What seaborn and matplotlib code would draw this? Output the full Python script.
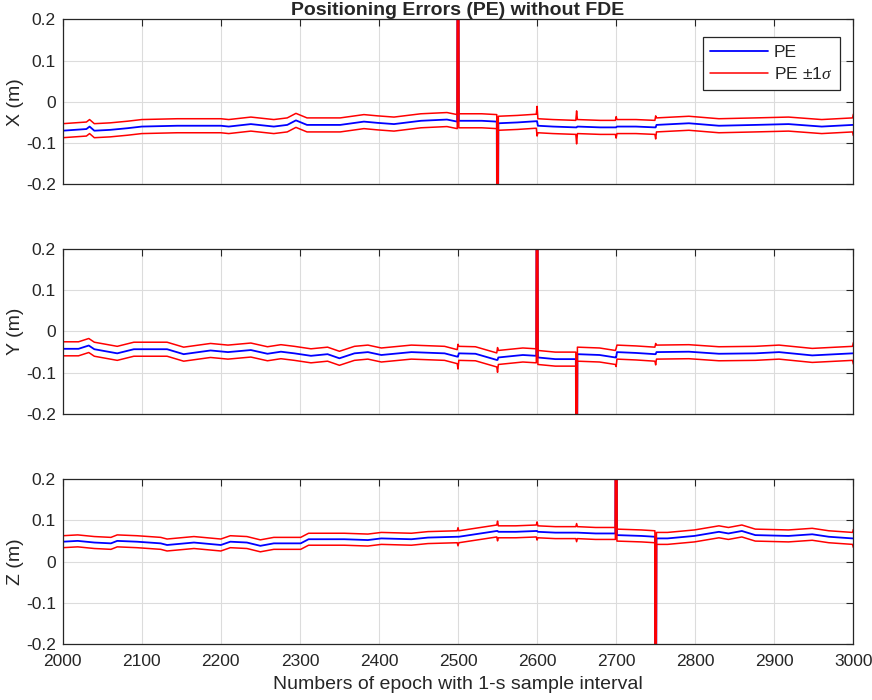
import numpy as np
import pandas as pd
import matplotlib
matplotlib.use("Agg")
import matplotlib.pyplot as plt
from matplotlib.lines import Line2D
import seaborn as sns

# ---------------- data ----------------
x_epochs = [2000, 2030, 2034, 2040, 2060, 2082, 2100, 2145, 2200, 2210, 2238, 2267,
            2284, 2295, 2309, 2351, 2381, 2398, 2419, 2453, 2486, 2499, 2500, 2501,
            2530, 2549, 2550, 2551, 2575, 2599, 2600, 2601, 2620, 2649, 2650, 2651,
            2680, 2699, 2700, 2701, 2725, 2749, 2750, 2751, 2792, 2830, 2876, 2918,
            2960, 2999, 3000]
x_pe = [-0.070, -0.066, -0.060, -0.070, -0.068, -0.064, -0.060, -0.058, -0.058, -0.060,
        -0.054, -0.060, -0.056, -0.045, -0.056, -0.056, -0.048, -0.051, -0.054, -0.046,
        -0.043, -0.048, 1.0, -0.046, -0.046, -0.048, -1.0, -0.052, -0.050, -0.047,
        -0.047, -0.058, -0.060, -0.062, -0.062, -0.060, -0.062, -0.062, -0.062, -0.060,
        -0.060, -0.062, -0.062, -0.056, -0.052, -0.058, -0.056, -0.054, -0.060, -0.056,
        -0.056]
x_sigma_base = 0.017
x_sigma_spike_epochs = [2600, 2650, 2700, 2750, 3000]
x_sigma_spike_vals = [0.036, 0.040, 0.026, 0.028, 0.026]

y_epochs = [2000, 2020, 2033, 2040, 2069, 2090, 2132, 2153, 2187, 2209, 2238, 2259,
            2276, 2293, 2314, 2335, 2350, 2369, 2386, 2403, 2441, 2483, 2499, 2500,
            2501, 2522, 2549, 2550, 2551, 2582, 2599, 2600, 2601, 2623, 2649, 2650,
            2651, 2679, 2699, 2700, 2701, 2725, 2749, 2750, 2751, 2792, 2830, 2876,
            2906, 2948, 2999, 3000]
y_pe = [-0.042, -0.042, -0.034, -0.043, -0.053, -0.043, -0.043, -0.055, -0.046, -0.050,
        -0.045, -0.054, -0.049, -0.053, -0.059, -0.055, -0.065, -0.053, -0.050, -0.057,
        -0.050, -0.053, -0.061, -0.061, -0.053, -0.054, -0.069, -0.069, -0.063, -0.057,
        -0.059, 1.0, -0.063, -0.067, -0.067, -1.0, -0.055, -0.057, -0.063, -0.063,
        -0.050, -0.052, -0.055, -0.055, -0.050, -0.049, -0.054, -0.053, -0.050, -0.058,
        -0.053, -0.053]
y_sigma_base = 0.017
y_sigma_spike_epochs = [2500, 2550, 2700, 2750, 3000]
y_sigma_spike_vals = [0.030, 0.030, 0.022, 0.026, 0.026]

z_epochs = [2000, 2019, 2040, 2061, 2069, 2094, 2124, 2132, 2166, 2200, 2212, 2233,
            2250, 2267, 2301, 2311, 2356, 2386, 2403, 2441, 2462, 2499, 2500, 2501,
            2549, 2550, 2551, 2573, 2599, 2600, 2601, 2623, 2649, 2650, 2651, 2674,
            2699, 2700, 2701, 2732, 2749, 2750, 2751, 2765, 2799, 2830, 2842, 2859,
            2876, 2918, 2948, 2969, 2999, 3000]
z_pe = [0.048, 0.050, 0.046, 0.044, 0.050, 0.048, 0.044, 0.040, 0.046, 0.040, 0.048,
        0.046, 0.038, 0.044, 0.044, 0.054, 0.054, 0.052, 0.056, 0.054, 0.058, 0.060,
        0.060, 0.060, 0.074, 0.074, 0.072, 0.072, 0.074, 0.074, 0.072, 0.070, 0.070,
        0.070, 0.070, 0.068, 0.068, 1.0, 0.064, 0.062, 0.060, -1.0, 0.056, 0.056,
        0.062, 0.072, 0.068, 0.074, 0.064, 0.062, 0.066, 0.060, 0.056, 0.056]
z_sigma_base = 0.0145
z_sigma_spike_epochs = [2500, 2550, 2600, 2650, 3000]
z_sigma_spike_vals = [0.022, 0.024, 0.022, 0.022, 0.022]

panel_names = ["X (m)", "Y (m)", "Z (m)"]
x_ticks = [2000, 2100, 2200, 2300, 2400, 2500, 2600, 2700, 2800, 2900, 3000]
y_ticks = [-0.2, -0.1, 0.0, 0.1, 0.2]
y_tick_labels = ["-0.2", "-0.1", "0", "0.1", "0.2"]
title_text = "Positioning Errors (PE) without FDE"
xlabel_text = "Numbers of epoch with 1-s sample interval"
legend_labels = ["PE", r"PE $\pm1\sigma$"]

# ---------------- style ----------------
sns.set_style("white")
plt.rcParams["font.family"] = ["Liberation Sans", "DejaVu Sans"]
plt.rcParams["axes.unicode_minus"] = False
plt.rcParams["mathtext.fontset"] = "custom"
plt.rcParams["mathtext.rm"] = "Liberation Sans"
plt.rcParams["mathtext.it"] = "Liberation Serif:italic"

edge = "#262626"
fig = plt.figure(figsize=(8.72, 7.0), dpi=100)
fig.patch.set_facecolor("white")

panel_data = [
    (x_epochs, x_pe, x_sigma_base, x_sigma_spike_epochs, x_sigma_spike_vals),
    (y_epochs, y_pe, y_sigma_base, y_sigma_spike_epochs, y_sigma_spike_vals),
    (z_epochs, z_pe, z_sigma_base, z_sigma_spike_epochs, z_sigma_spike_vals),
]
bottoms = [0.7367, 0.4086, 0.0800]
left, width, height = 0.0719, 0.9067, 0.2357

for i, (ep, pe, sb, se, sv) in enumerate(panel_data):
    ax = fig.add_axes([left, bottoms[i], width, height])
    spikes = dict(zip(se, sv))
    sig = [spikes.get(e, sb) for e in ep]
    df = pd.DataFrame({"epoch": ep, "pe": pe, "sigma": sig})
    df["upper"] = df["pe"] + df["sigma"]
    df["lower"] = df["pe"] - df["sigma"]

    sns.lineplot(data=df, x="epoch", y="pe", ax=ax, color="#0000ff", lw=1.3,
                 estimator=None, sort=False, legend=False)
    sns.lineplot(data=df, x="epoch", y="upper", ax=ax, color="#ff0000", lw=1.1,
                 estimator=None, sort=False, legend=False)
    sns.lineplot(data=df, x="epoch", y="lower", ax=ax, color="#ff0000", lw=1.1,
                 estimator=None, sort=False, legend=False)

    ax.set_xlim(2000, 3000)
    ax.set_ylim(-0.2, 0.2)
    ax.set_xticks(x_ticks)
    ax.set_yticks(y_ticks)
    ax.set_yticklabels(y_tick_labels)
    if i == 2:
        ax.set_xticklabels([str(t) for t in x_ticks])
        ax.set_xlabel(xlabel_text, fontsize=14, color=edge, labelpad=5)
    else:
        ax.set_xticklabels([])
        ax.set_xlabel("")
    ax.set_ylabel(panel_names[i], fontsize=14, color=edge, labelpad=1)
    ax.tick_params(direction="in", top=True, right=True, length=5, width=0.8,
                   labelsize=12.5, colors=edge, pad=5)
    ax.tick_params(axis="x", pad=7)
    ax.grid(True, color="#dcdcdc", lw=0.8)
    ax.set_axisbelow(True)
    for s in ax.spines.values():
        s.set_color(edge)
        s.set_linewidth(0.9)

    if i == 0:
        ax.set_title(title_text, fontsize=14, fontweight="bold", pad=2)
        handles = [Line2D([], [], color="#0000ff", lw=1.3),
                   Line2D([], [], color="#ff0000", lw=1.1)]
        leg = ax.legend(handles, legend_labels, loc="upper right",
                        bbox_to_anchor=(0.983, 0.893), fontsize=12.5,
                        frameon=True, fancybox=False, framealpha=1,
                        edgecolor=edge, handlelength=3.3, handletextpad=0.35,
                        borderpad=0.45, labelspacing=0.35, borderaxespad=0)
        leg.get_frame().set_linewidth(0.9)

fig.savefig("out.png", dpi=100, facecolor="white")
